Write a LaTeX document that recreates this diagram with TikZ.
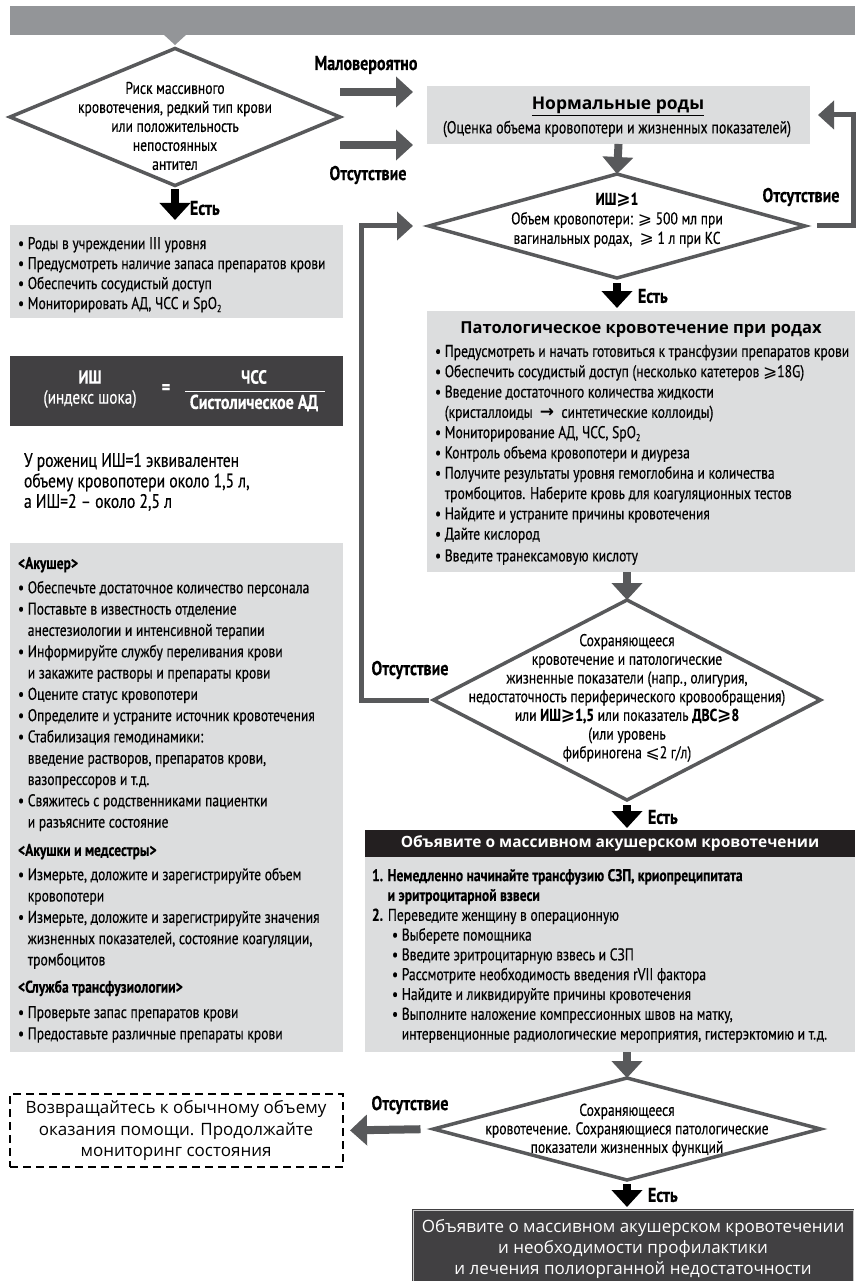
\documentclass[tikz,border=0pt]{standalone}
\usepackage{fontspec}
\setmainfont{PT Sans}[FakeStretch=0.8, FakeBold=0.4]
\newfontfamily\osans{Open Sans}
\newfontfamily\symf{DejaVu Sans}
\usetikzlibrary{shapes.geometric,arrows.meta,calc}

\definecolor{dgray}{HTML}{58595B}
\definecolor{lgray}{HTML}{DCDDDE}
\definecolor{bannergray}{HTML}{939598}
\definecolor{darkbox}{HTML}{414042}
\definecolor{nearblack}{HTML}{231F20}

\newcommand\geqsym{{\symf ⩾}}
\newcommand\leqsym{{\symf ⩽}}
\newcommand\subtwo{\raisebox{-0.35ex}{\fontsize{10}{10}\selectfont 2}}
\newcommand\ind{\phantom{•\ }}

\tikzset{
  lbox/.style={fill=lgray, inner sep=0, outer sep=0, anchor=north west},
  dia/.style={diamond, draw=dgray, line width=3.5pt, fill=white, inner sep=0, outer sep=0},
  txt/.style={inner sep=0, outer sep=0, align=center},
  body/.style={inner sep=0, outer sep=0, align=left, anchor=north west},
  lbl/.style={inner sep=0, outer sep=0, font=\bfseries\fontsize{20}{20}\selectfont},
  garrow/.style={draw=dgray, line width=8pt, -{Triangle[length=17pt,width=30pt]}},
  barrow/.style={draw=black, line width=8pt, -{Triangle[length=17pt,width=30pt]}},
  fback/.style={draw=dgray, line width=5pt, -{Triangle[length=16pt,width=28pt]}},
}

\begin{document}
\begin{tikzpicture}[x=1pt,y=-1pt]
\useasboundingbox (0,0) rectangle (855,1281);

% header banner with its notch
\node (banner) [fill=bannergray, inner sep=0, outer sep=0, anchor=north west,
  minimum width=845pt, minimum height=29pt] at (10,6) {};
\fill[bannergray] (163,34) -- (187,34) -- (175,45) -- cycle;

% ---------- first decision ----------
\node (d1) [dia, minimum width=330pt, minimum height=137pt] at (175,117) {};
\node (d1t) [txt, font=\fontsize{17}{19}\selectfont] at (175,126)
  {Риск массивного\\кровотечения, редкий тип крови\\или положительность\\непостоянных\\антител};

% ---------- normal delivery ----------
\node (nb) [lbox, minimum width=383pt, minimum height=58pt] at (427,86) {};
\node (nbt) [txt, font=\osans\bfseries\fontsize{17.5}{20}\selectfont] at (618,106) {\underline{Нормальные роды}};
\node (nbs) [txt, font=\fontsize{17.5}{18}\selectfont] at (617,129) {(Оценка объема кровопотери и жизненных показателей)};

\draw[garrow] ($(d1.east)+(0,-25)$) -- ($(nb.west)+(-14,-23)$);
\draw[garrow] ($(d1.east)+(0,28)$) -- ($(nb.west)+(-14,30)$);
\node (lM) [lbl] at (366,65) {Маловероятно};
\node (lO1) [lbl] at (368,175) {Отсутствие};

% ---------- risk measures ----------
\node (b1) [lbox, minimum width=333pt, minimum height=93pt] at (10,225) {};
\node (b1t) [body, font=\fontsize{17}{20}\selectfont] at (18,237)
  {• Роды в учреждении III уровня\\
   • Предусмотреть наличие запаса препаратов крови\\
   • Обеспечить сосудистый доступ\\
   • Мониторировать АД, ЧСС и SpO\subtwo};
\draw[barrow, shorten <=4pt, shorten >=5pt] (d1.south) -- (d1.south |- b1.north);
\node (lE1) [lbl, anchor=west] at (190,208) {Есть};

% ---------- shock index ----------
\node (fb) [fill=darkbox, inner sep=0, outer sep=0, anchor=north west,
  minimum width=333pt, minimum height=70pt] at (10,356) {};
\node (ish) [txt, text=white, font=\bfseries\fontsize{19}{19}\selectfont] at (90,377) {ИШ};
\node (ishd) [txt, text=white, font=\fontsize{19}{19}\selectfont] at (90,399) {(индекс шока)};
\node (eq) [txt, text=white, font=\bfseries\fontsize{20}{20}\selectfont] at (166,389) {=};
\node (num) [txt, text=white, font=\bfseries\fontsize{19}{19}\selectfont] at (254,377) {ЧСС};
\node (den) [txt, text=white, font=\bfseries\fontsize{20}{20}\selectfont] at (254,403) {Систолическое АД};
\draw[white, line width=1pt] (185,391) -- (325,391);

\node (note) [body, font=\fontsize{19.5}{20.5}\selectfont] at (24,453)
  {У рожениц ИШ=1 эквивалентен\\объему кровопотери около 1,5 л,\\а ИШ=2 – около 2,5 л};

% ---------- staff duties ----------
\node (b2) [lbox, minimum width=333pt, minimum height=509pt] at (10,543) {};
\node (b2t) [body, font=\fontsize{17}{21.3}\selectfont] at (18,557)
  {\textbf{<Акушер>}\\[3pt]
   • Обеспечьте достаточное количество персонала\\
   • Поставьте в известность отделение\\
   \ind анестезиологии и интенсивной терапии\\
   • Информируйте службу переливания крови\\
   \ind и закажите растворы и препараты крови\\
   • Оцените статус кровопотери\\
   • Определите и устраните источник кровотечения\\
   • Стабилизация гемодинамики:\\
   \ind введение растворов, препаратов крови,\\
   \ind вазопрессоров и т.д.\\
   • Свяжитесь с родственниками пациентки\\
   \ind и разъясните состояние\\[7pt]
   \textbf{<Акушки и медсестры>}\\[3pt]
   • Измерьте, доложите и зарегистрируйте объем\\
   \ind кровопотери\\
   • Измерьте, доложите и зарегистрируйте значения\\
   \ind жизненных показателей, состояние коагуляции,\\
   \ind тромбоцитов\\[6pt]
   \textbf{<Служба трансфузиологии>}\\[4pt]
   • Проверьте запас препаратов крови\\
   • Предоставьте различные препараты крови};

% ---------- second decision ----------
\node (d2) [dia, minimum width=376pt, minimum height=104pt] at (617,226) {};
\node (d2t) [txt, font=\fontsize{17}{19.5}\selectfont] at (617,220)
  {\textbf{ИШ\geqsym1}\\Объем кровопотери: \geqsym{} 500 мл при\\вагинальных родах, \ \geqsym{} 1 л при КС};
\draw[garrow] (nb.south) -- (d2.north);
\draw[fback, shorten <=12pt] (d2.east) -- ++(48,0) |- ([xshift=8pt]nb.east);
\node (lO2) [lbl] at (801,197) {Отсутствие};

% ---------- pathological bleeding ----------
\node (pb) [lbox, minimum width=428pt, minimum height=261pt] at (427,311) {};
\draw[barrow, shorten <=5pt, shorten >=3pt] (d2.south) -- (d2.south |- pb.north);
\node (lE2) [lbl, anchor=west] at (638,296) {Есть};
\node (pbt) [txt, font=\osans\bfseries\fontsize{16.5}{18}\selectfont] at (641,330) {Патологическое кровотечение при родах};
\node (pbb) [body, font=\fontsize{17}{20.3}\selectfont] at (435,345)
  {• Предусмотреть и начать готовиться к трансфузии препаратов крови\\
   • Обеспечить сосудистый доступ (несколько катетеров \geqsym18G)\\
   • Введение достаточного количества жидкости\\
   \ind (кристаллоиды \ {\symf\bfseries →} \ синтетические коллоиды)\\
   • Мониторирование АД, ЧСС, SpO\subtwo\\
   • Контроль объема кровопотери и диуреза\\
   • Получите результаты уровня гемоглобина и количества\\
   \ind тромбоцитов. Наберите кровь для коагуляционных тестов\\
   • Найдите и устраните причины кровотечения\\
   • Дайте кислород\\[1.5pt]
   • Введите транексамовую кислоту};

% ---------- third decision ----------
\node (d3) [dia, minimum width=387pt, minimum height=200pt] at (627,700) {};
\node (d3t) [txt, font=\fontsize{17}{18.7}\selectfont] at (627,698)
  {Сохраняющееся\\кровотечение и патологические\\жизненные показатели (напр., олигурия,\\
   недостаточность периферического кровообращения)\\
   или \textbf{ИШ\geqsym1,5} или показатель \textbf{ДВС\geqsym8}\\(или уровень\\фибриногена \leqsym2 г/л)};
\draw[garrow] (d3.north |- pb.south) -- (d3.north);
\draw[fback, shorten <=5pt] (d3.west) -- ++(-72,0) |- ([xshift=-16pt]d2.west);
\node (lO3) [lbl] at (410,670) {Отсутствие};

% ---------- massive bleeding ----------
\node (hb) [fill=nearblack, inner sep=0, outer sep=0, anchor=north west,
  minimum width=490pt, minimum height=27pt] at (365,830) {};
\node (hbt) [txt, text=white, font=\osans\bfseries\fontsize{15.5}{17}\selectfont] at (610,843.5) {Объявите о массивном акушерском кровотечении};
\draw[barrow, shorten <=5pt, shorten >=2pt] (d3.south) -- (d3.south |- hb.north);
\node (lE3) [lbl, anchor=west] at (648,817) {Есть};

\node (gb) [lbox, minimum width=490pt, minimum height=195pt] at (365,857) {};
\node (gbt) [body, font=\fontsize{17}{19.8}\selectfont] at (372,869)
  {\textbf{1. Немедленно начинайте трансфузию СЗП, криопреципитата}\\
   \textbf{\phantom{1. }и эритроцитарной взвеси}\\
   \textbf{2.} Переведите женщину в операционную\\
   \hspace*{20pt}• Выберете помощника\\
   \hspace*{20pt}• Введите эритроцитарную взвесь и СЗП\\
   \hspace*{20pt}• Рассмотрите необходимость введения rVII фактора\\
   \hspace*{20pt}• Найдите и ликвидируйте причины кровотечения\\
   \hspace*{20pt}• Выполните наложение компрессионных швов на матку,\\
   \hspace*{20pt}\ind интервенционные радиологические мероприятия, гистерэктомию и т.д.};

% ---------- fourth decision ----------
\node (d4) [dia, minimum width=387pt, minimum height=102pt] at (627,1129) {};
\node (d4t) [txt, font=\fontsize{17}{18.5}\selectfont] at (627,1130)
  {Сохраняющееся\\кровотечение. Сохраняющиеся патологические\\показатели жизненных функций};
\draw[garrow] (d4.north |- gb.south) -- (d4.north);

\node (db) [draw=black, dashed, line width=2pt, dash pattern=on 8pt off 5pt,
  inner sep=0, outer sep=0, anchor=north west, minimum width=333pt, minimum height=73pt] at (10,1094) {};
\node (dbt) [txt, font=\osans\fontsize{17}{21.5}\selectfont] at (176,1131)
  {Возвращайтесь к обычному объему\\оказания помощи. Продолжайте\\мониторинг состояния};
\draw[garrow, shorten <=13pt, shorten >=7pt] (d4.west) -- (db.east);
\node (lO4) [lbl] at (410,1105) {Отсутствие};

\node (fin) [fill=darkbox, draw=darkbox, double=gray!45, double distance=0.8pt, line width=1pt,
  inner sep=0, outer sep=0, anchor=north west, minimum width=440pt, minimum height=72pt] at (413,1210) {};
\node (fint) [txt, text=white, font=\osans\fontsize{17}{21}\selectfont] at (633,1249)
  {Объявите о массивном акушерском кровотечении\\и необходимости профилактики\\и лечения полиорганной недостаточности};
\draw[barrow, shorten <=4pt, shorten >=3pt] (d4.south) -- (d4.south |- fin.north);
\node (lE4) [lbl, anchor=west] at (648,1195) {Есть};

\end{tikzpicture}
\end{document}
